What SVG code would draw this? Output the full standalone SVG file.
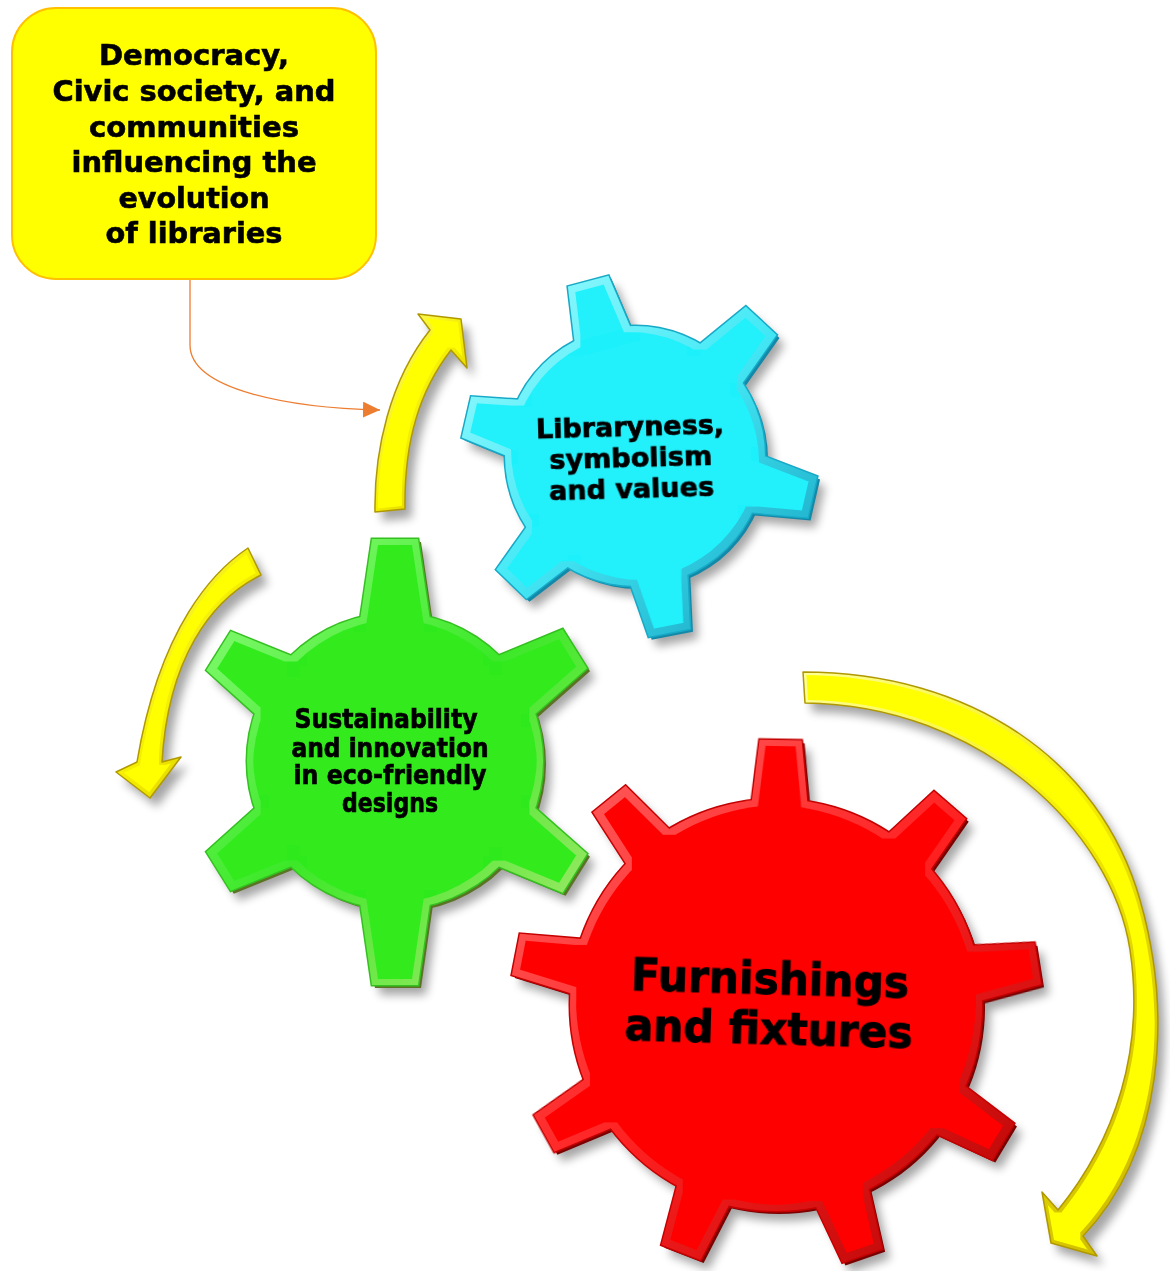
<svg xmlns="http://www.w3.org/2000/svg" width="1170" height="1271" viewBox="0 0 1170 1271">
<defs>
<style>
.t{font-family:"DejaVu Sans","Verdana","Liberation Sans",sans-serif;font-weight:bold;fill:#000;stroke:#000;text-anchor:middle}
.box{font-size:28px;stroke-width:.6px}
.s25{font-size:26px;stroke-width:.7px}
.s44{font-size:44px;stroke-width:1px}
.shadow{fill:#000;opacity:.35}
</style>
<filter id="blur" x="-20%" y="-20%" width="140%" height="140%"><feGaussianBlur stdDeviation="5"/></filter>
<filter id="inset" x="-10%" y="-10%" width="120%" height="120%"><feMorphology operator="erode" radius="6"/></filter>
<filter id="inset3" x="-10%" y="-10%" width="120%" height="120%"><feMorphology operator="erode" radius="3"/></filter>
<marker id="oa" viewBox="0 0 17 16" refX="17" refY="8" markerWidth="17" markerHeight="16" markerUnits="userSpaceOnUse" orient="auto"><path d="M0,0 L17,8 L0,16 z" fill="#ED7D31"/></marker>

<g id="gC">
<circle r="130"/>
<polygon points="-30,-118 -21,-181 21,-181 30,-118" transform="rotate(-15)"/>
<polygon points="-30,-118 -21,-185 21,-185 30,-118" transform="rotate(43)"/>
<polygon points="-30,-118 -21,-182 21,-182 30,-118" transform="rotate(103)"/>
<polygon points="-30,-118 -21,-180 21,-180 30,-118" transform="rotate(169)"/>
<polygon points="-30,-118 -21,-178 21,-178 30,-118" transform="rotate(224)"/>
<polygon points="-30,-118 -21,-173 21,-173 30,-118" transform="rotate(283)"/>
</g>
<g id="gG">
<circle r="148"/>
<polygon points="-36,-134 -23,-222 23,-222 36,-134"/>
<polygon points="-36,-134 -23,-212 23,-212 36,-134" transform="rotate(58)"/>
<polygon points="-36,-134 -23,-212 23,-212 36,-134" transform="rotate(122)"/>
<polygon points="-36,-134 -23,-224 23,-224 36,-134" transform="rotate(180)"/>
<polygon points="-36,-134 -23,-208 23,-208 36,-134" transform="rotate(238)"/>
<polygon points="-36,-134 -23,-208 23,-208 36,-134" transform="rotate(302)"/>
</g>
<g id="gR">
<circle r="206"/>
<polygon points="-29,-192 -21,-265 21,-265 29,-192" transform="rotate(1)"/>
<polygon points="-29,-192 -21,-265 21,-265 29,-192" transform="rotate(41)"/>
<polygon points="-29,-192 -21,-265 21,-265 29,-192" transform="rotate(81)"/>
<polygon points="-29,-192 -21,-265 21,-265 29,-192" transform="rotate(121)"/>
<polygon points="-29,-192 -21,-265 21,-265 29,-192" transform="rotate(161)"/>
<polygon points="-29,-192 -21,-265 21,-265 29,-192" transform="rotate(201)"/>
<polygon points="-29,-192 -21,-265 21,-265 29,-192" transform="rotate(241)"/>
<polygon points="-29,-192 -21,-265 21,-265 29,-192" transform="rotate(281)"/>
<polygon points="-29,-192 -21,-265 21,-265 29,-192" transform="rotate(321)"/>
</g>

<linearGradient id="bevC" x1="0" y1="0" x2="1" y2="1"><stop offset="0" stop-color="#a8fdff"/><stop offset=".5" stop-color="#45e9f6"/><stop offset="1" stop-color="#119cbc"/></linearGradient>
<linearGradient id="bevG" x1="0" y1="0" x2="1" y2="1"><stop offset="0" stop-color="#9aff88"/><stop offset=".5" stop-color="#3ce828"/><stop offset="1" stop-color="#b8e878"/></linearGradient>
<linearGradient id="bevR" x1="0" y1="0" x2="1" y2="1"><stop offset="0" stop-color="#ff6a6a"/><stop offset=".5" stop-color="#ff2020"/><stop offset="1" stop-color="#a80000"/></linearGradient>
<linearGradient id="bevY" x1="0" y1="0" x2="1" y2="1"><stop offset="0" stop-color="#ffff9a"/><stop offset=".5" stop-color="#f4ee00"/><stop offset="1" stop-color="#c9b300"/></linearGradient>

<mask id="mC" maskUnits="userSpaceOnUse" x="0" y="0" width="1170" height="1271"><use href="#gC" x="635" y="456" fill="#fff"/></mask>
<mask id="mG" maskUnits="userSpaceOnUse" x="0" y="0" width="1170" height="1271"><use href="#gG" x="395" y="761" fill="#fff"/></mask>
<mask id="mR" maskUnits="userSpaceOnUse" x="0" y="0" width="1170" height="1271"><use href="#gR" x="776" y="1005" fill="#fff"/></mask>

<path id="aU" d="M375,512 C374,450 390,380 430,330 L418,314 L461,319 L467,368 L451,350 C420,390 404,440 405,509 Z"/>
<path id="aL" d="M248,548 C215,570 160,625 137,762 L116,772 L150,798 L181,757 L162,762 C168,660 210,600 261,575 Z"/>
<path id="aR" d="M803,672 C970,672 1100,760 1140,900 C1172,1012 1165,1150 1083,1236 L1097,1256 L1051,1243 L1042,1192 L1058,1210 C1115,1140 1145,1050 1130,950 C1112,830 980,705 805,703 Z"/>
</defs>

<rect width="1170" height="1271" fill="#fff"/>

<g id="arrows">
<g id="arrow-up">
<use href="#aU" class="shadow" transform="translate(7,9)" filter="url(#blur)"/>
<use href="#aU" fill="url(#bevY)" stroke="#b09800" stroke-width="1.5" stroke-linejoin="round"/>
<use href="#aU" fill="#ffff00" filter="url(#inset3)"/>
</g>
<g id="arrow-left">
<use href="#aL" class="shadow" transform="translate(7,9)" filter="url(#blur)"/>
<use href="#aL" fill="url(#bevY)" stroke="#b09800" stroke-width="1.5" stroke-linejoin="round"/>
<use href="#aL" fill="#ffff00" filter="url(#inset3)"/>
</g>
<g id="arrow-right">
<use href="#aR" class="shadow" transform="translate(7,9)" filter="url(#blur)"/>
<use href="#aR" fill="url(#bevY)" stroke="#b09800" stroke-width="1.5" stroke-linejoin="round"/>
<use href="#aR" fill="#ffff00" filter="url(#inset3)"/>
</g>
</g>

<g id="node-libraryness">
<use href="#gC" x="643" y="466" class="shadow" filter="url(#blur)"/>
<use href="#gC" x="638" y="459" fill="#1289a8"/>
<use href="#gC" x="635" y="456" fill="#17a9c6" stroke="#17a9c6" stroke-width="3"/>
<rect x="450" y="270" width="370" height="370" fill="url(#bevC)" mask="url(#mC)"/>
<use href="#gC" x="635" y="456" fill="#20f1fb" filter="url(#inset)"/>
<g transform="rotate(-1.5 631 467)">
<text class="t s25" x="631" y="436" textLength="188" lengthAdjust="spacingAndGlyphs">Libraryness,</text>
<text class="t s25" x="631" y="467" textLength="163" lengthAdjust="spacingAndGlyphs">symbolism</text>
<text class="t s25" x="631" y="498" textLength="165" lengthAdjust="spacingAndGlyphs">and values</text>
</g>
</g>

<g id="node-sustainability">
<use href="#gG" x="403" y="771" class="shadow" filter="url(#blur)"/>
<use href="#gG" x="398" y="764" fill="#5b7324"/>
<use href="#gG" x="395" y="761" fill="#34c020" stroke="#34c020" stroke-width="3"/>
<rect x="170" y="530" width="450" height="460" fill="url(#bevG)" mask="url(#mG)"/>
<use href="#gG" x="395" y="761" fill="#30ea1e" filter="url(#inset)"/>
<text class="t s25" x="386" y="728" textLength="183" lengthAdjust="spacingAndGlyphs">Sustainability</text>
<text class="t s25" x="390" y="757" textLength="197" lengthAdjust="spacingAndGlyphs">and innovation</text>
<text class="t s25" x="390" y="784" textLength="193" lengthAdjust="spacingAndGlyphs">in eco-friendly</text>
<text class="t s25" x="390" y="812" textLength="96" lengthAdjust="spacingAndGlyphs">designs</text>
</g>

<g id="node-furnishings">
<use href="#gR" x="784" y="1015" class="shadow" filter="url(#blur)"/>
<use href="#gR" x="779" y="1008" fill="#7a0000"/>
<use href="#gR" x="776" y="1005" fill="#c40000" stroke="#c40000" stroke-width="3"/>
<rect x="500" y="730" width="560" height="545" fill="url(#bevR)" mask="url(#mR)"/>
<use href="#gR" x="776" y="1005" fill="#ff0000" filter="url(#inset)"/>
<g transform="rotate(1.6 769 1019)">
<text class="t s44" x="769" y="994" textLength="278" lengthAdjust="spacingAndGlyphs">Furnishings</text>
<text class="t s44" x="769" y="1044" textLength="288" lengthAdjust="spacingAndGlyphs">and fixtures</text>
</g>
</g>

<g id="node-democracy">
<rect x="12" y="8" width="364" height="271" rx="44" fill="#ffff00" stroke="#ffc000" stroke-width="2"/>
<text class="t box" x="194" y="65" textLength="190" lengthAdjust="spacingAndGlyphs">Democracy,</text>
<text class="t box" x="194" y="101" textLength="283" lengthAdjust="spacingAndGlyphs">Civic society, and</text>
<text class="t box" x="194" y="136.5" textLength="210" lengthAdjust="spacingAndGlyphs">communities</text>
<text class="t box" x="194" y="172" textLength="245" lengthAdjust="spacingAndGlyphs">influencing the</text>
<text class="t box" x="194" y="207.5" textLength="151" lengthAdjust="spacingAndGlyphs">evolution</text>
<text class="t box" x="194" y="243" textLength="177" lengthAdjust="spacingAndGlyphs">of libraries</text>
</g>

<g id="connectors">
<path d="M190,280 V345 C190,390 290,408 380,410" fill="none" stroke="#ED7D31" stroke-width="1.3" marker-end="url(#oa)"/>
</g>
</svg>
